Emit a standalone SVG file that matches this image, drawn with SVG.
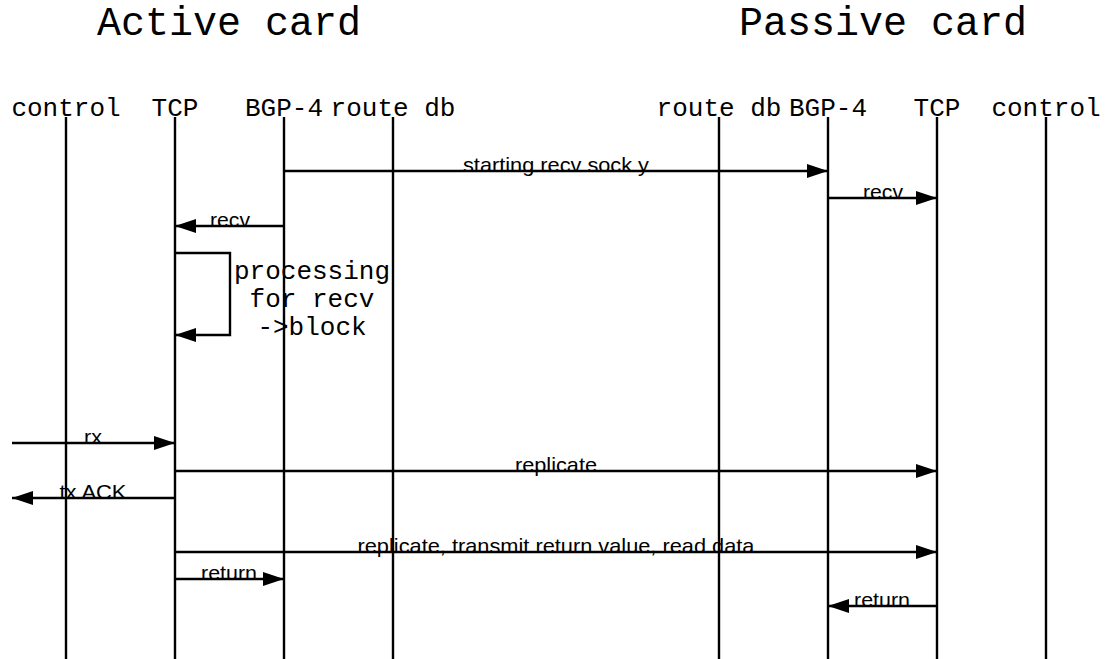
<svg xmlns="http://www.w3.org/2000/svg" width="1107" height="659" viewBox="0 0 1107 659">
<style>
.title{font-family:"Liberation Mono",monospace;font-size:40px;fill:#000;text-anchor:middle}
.head{font-family:"Liberation Mono",monospace;font-size:26px;fill:#000;text-anchor:middle}
.note{font-family:"Liberation Mono",monospace;font-size:26px;fill:#000;text-anchor:middle}
.lbl{font-family:"Liberation Sans",Arial,sans-serif;font-size:21px;fill:#000;text-anchor:middle}
.life{stroke:#000;stroke-width:2.4;fill:none}
.msg{stroke:#000;stroke-width:2.4;fill:none;marker-end:url(#ah)}
</style>
<defs>
<marker id="ah" markerUnits="userSpaceOnUse" markerWidth="22" markerHeight="15" refX="21" refY="7" orient="auto">
<path d="M0,0 L21,7 L0,14 z" fill="#000"/>
</marker>
</defs>
<rect width="1107" height="659" fill="#fff"/>
<text class="title" x="229" y="35">Active card</text>
<text class="title" x="883" y="35">Passive card</text>
<g id="a-control"><line class="life" x1="66" y1="117" x2="66" y2="659"/><text class="head" x="66" y="116">control</text></g>
<g id="a-tcp"><line class="life" x1="175" y1="117" x2="175" y2="659"/><text class="head" x="175" y="116">TCP</text></g>
<g id="a-bgp"><line class="life" x1="284" y1="117" x2="284" y2="659"/><text class="head" x="284" y="116">BGP-4</text></g>
<g id="a-routedb"><line class="life" x1="393" y1="117" x2="393" y2="659"/><text class="head" x="393" y="116">route db</text></g>
<g id="p-routedb"><line class="life" x1="719" y1="117" x2="719" y2="659"/><text class="head" x="719" y="116">route db</text></g>
<g id="p-bgp"><line class="life" x1="828" y1="117" x2="828" y2="659"/><text class="head" x="828" y="116">BGP-4</text></g>
<g id="p-tcp"><line class="life" x1="937" y1="117" x2="937" y2="659"/><text class="head" x="937" y="116">TCP</text></g>
<g id="p-control"><line class="life" x1="1046" y1="117" x2="1046" y2="659"/><text class="head" x="1046" y="116">control</text></g>
<g id="connectors">
<line class="msg" x1="284" y1="171" x2="828" y2="171"/>
<text class="lbl" x="556" y="172" textLength="186" lengthAdjust="spacingAndGlyphs">starting recv sock y</text>
<line class="msg" x1="828" y1="198" x2="937" y2="198"/>
<text class="lbl" x="883" y="199" textLength="40" lengthAdjust="spacingAndGlyphs">recv</text>
<line class="msg" x1="284" y1="226" x2="175" y2="226"/>
<text class="lbl" x="230" y="227" textLength="40" lengthAdjust="spacingAndGlyphs">recv</text>
<polyline class="msg" points="175,253 230,253 230,335 175,335"/>
<text class="note" x="312" y="279">processing</text>
<text class="note" x="312" y="307">for recv</text>
<text class="note" x="312" y="335">-&gt;block</text>
<line class="msg" x1="12" y1="443" x2="175" y2="443"/>
<text class="lbl" x="93" y="444" textLength="18" lengthAdjust="spacingAndGlyphs">rx</text>
<line class="msg" x1="175" y1="471" x2="937" y2="471"/>
<text class="lbl" x="556" y="472" textLength="82" lengthAdjust="spacingAndGlyphs">replicate</text>
<line class="msg" x1="175" y1="498" x2="12" y2="498"/>
<text class="lbl" x="93" y="499" textLength="67" lengthAdjust="spacingAndGlyphs">tx ACK</text>
<line class="msg" x1="175" y1="552" x2="937" y2="552"/>
<text class="lbl" x="556" y="553" textLength="397" lengthAdjust="spacingAndGlyphs">replicate, transmit return value, read data</text>
<line class="msg" x1="175" y1="579" x2="284" y2="579"/>
<text class="lbl" x="229" y="580" textLength="56" lengthAdjust="spacingAndGlyphs">return</text>
<line class="msg" x1="937" y1="606" x2="828" y2="606"/>
<text class="lbl" x="882" y="607" textLength="56" lengthAdjust="spacingAndGlyphs">return</text>
</g>
</svg>
